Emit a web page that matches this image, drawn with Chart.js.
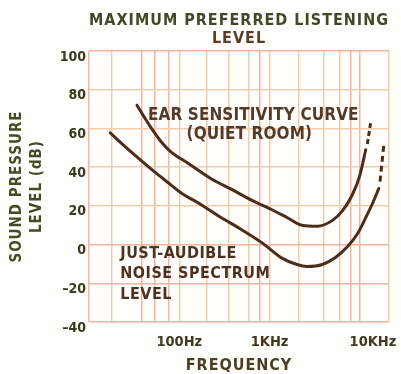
<!DOCTYPE html>
<html>
<head>
<meta charset="utf-8">
<script src="https://cdn.jsdelivr.net/npm/chart.js@4/dist/chart.umd.min.js"></script>
<style>
  html, body { margin: 0; padding: 0; background: #fffefb; }
  #wrap { width: 401px; height: 374px; }
</style>
</head>
<body>
<div id="wrap"><canvas id="chart" width="401" height="374"></canvas></div>
<script>
// Frequency grid (Hz) and the decades that carry a label
const gridFreqs = [10, 18, 38, 54, 77, 100, 200, 350, 590, 780, 1000, 2100, 4000, 6000, 8000, 10000, 21000];
const freqLabels = { 100: '100Hz', 1000: '1KHz', 10000: '10KHz' };
const levelTicks = [100, 80, 60, 40, 20, 0, -20, -40];

// Ear sensitivity curve (quiet room), dB SPL vs Hz
const earFreq  = [34, 42, 51, 62, 80, 125, 225, 380, 630, 1060, 1560, 2290, 3370, 4970, 6430, 8300, 9950, 11600];
const earLevel = [72, 65, 59, 53.5, 48, 42, 34, 28.5, 23, 18, 14, 10, 9.5, 12.5, 17.5, 26, 35.5, 49];
const earDashFreq  = [12100, 13200];
const earDashLevel = [52, 63.5];

// Just-audible noise spectrum level
const noiseFreq  = [17.2, 25.3, 37, 55, 80, 104, 175, 290, 490, 820, 1370, 2010, 2600, 3840, 5360, 7300, 9440, 11600, 13900, 16200];
const noiseLevel = [57.7, 50.5, 43.8, 37, 31, 26.8, 20.6, 14, 7.7, 1, -7, -10.3, -11.3, -10.3, -6.7, -1, 5.7, 13.9, 21.6, 29];
const noiseDashFreq  = [16700, 18400];
const noiseDashLevel = [32.5, 51.5];

const FONT = "'DejaVu Sans Condensed', 'DejaVu Sans', sans-serif";
const CURVE = '#4a2d1b';
const TAN = '#efcdae';
const PINK = '#f2b2a4';
const pinkX = new Set([10, 38, 54, 77, 780, 8000, 10000]);
const pinkY = new Set([100, 0, -20, -40]);

const pts = (fs, ls) => fs.map((f, i) => ({ x: f, y: ls[i] }));

function curve(data, dash) {
  return {
    data,
    borderColor: CURVE,
    borderWidth: 3,
    borderDash: dash || [],
    borderCapStyle: dash ? 'butt' : 'round',
    pointRadius: 0,
    cubicInterpolationMode: 'monotone',
    fill: false
  };
}

// In-plot captions, anchored in data coordinates; also sets letter spacing per drawing stage
const captions = {
  id: 'captions',
  beforeDraw(chart) {
    chart.ctx.letterSpacing = '1px';
  },
  afterDatasetsDraw(chart) {
    const { ctx, scales: { x, y } } = chart;
    ctx.save();
    ctx.textBaseline = 'alphabetic';

    ctx.fillStyle = '#553a29';
    ctx.letterSpacing = '0.1px';
    ctx.font = `bold 17px ${FONT}`;
    ctx.textAlign = 'center';
    const ex = x.getPixelForValue(660);
    const ey = y.getPixelForValue(64.4);
    ctx.fillText('EAR SENSITIVITY CURVE', ex, ey);
    ctx.fillText('(QUIET ROOM)', ex - 4, ey + 19);

    ctx.fillStyle = '#4c3222';
    ctx.letterSpacing = '0.5px';
    ctx.font = `bold 16px ${FONT}`;
    ctx.textAlign = 'left';
    const nx = x.getPixelForValue(22.2);
    const ny = y.getPixelForValue(-6.7);
    ['JUST-AUDIBLE', 'NOISE SPECTRUM', 'LEVEL'].forEach((t, i) => ctx.fillText(t, nx, ny + i * 20.5));
    ctx.restore();

    ctx.letterSpacing = '0px';
  },
  afterDraw(chart) {
    chart.ctx.letterSpacing = '0px';
  }
};

new Chart(document.getElementById('chart'), {
  type: 'line',
  data: {
    datasets: [
      curve(pts(earFreq, earLevel)),
      curve(pts(earDashFreq, earDashLevel), [5, 3]),
      curve(pts(noiseFreq, noiseLevel)),
      curve(pts(noiseDashFreq, noiseDashLevel), [6, 4])
    ]
  },
  options: {
    responsive: false,
    animation: false,
    devicePixelRatio: 1,
    layout: { padding: 0 },
    plugins: {
      legend: { display: false },
      tooltip: { enabled: false },
      title: {
        display: true,
        text: 'MAXIMUM PREFERRED LISTENING',
        fullSize: false,
        color: '#46472a',
        font: { family: FONT, size: 16, weight: 'bold', lineHeight: 18 / 16 },
        padding: { top: 12, bottom: 0 }
      },
      subtitle: {
        display: true,
        text: 'LEVEL',
        fullSize: false,
        color: '#5b3d2b',
        font: { family: FONT, size: 16, weight: 'bold', lineHeight: 18 / 16 },
        padding: { top: 0, bottom: 3 }
      }
    },
    scales: {
      x: {
        type: 'logarithmic',
        min: 10,
        max: 21000,
        afterBuildTicks: s => { s.ticks = gridFreqs.map(v => ({ value: v })); },
        afterFit: s => { s.height = 52; },
        ticks: {
          autoSkip: false,
          maxRotation: 0,
          padding: 12,
          z: 1,
          color: '#433722',
          font: { family: FONT, size: 14.5, weight: 'bold', lineHeight: 1.2 },
          callback: v => {
            const t = freqLabels[v] || '';
            // the top decade label sits a little right of its grid line
            return v === 10000 ? '\u2003\u2003' + t : t;
          }
        },
        grid: {
          drawTicks: false,
          lineWidth: 1.5,
          color: c => (c.tick && pinkX.has(c.tick.value)) ? PINK : TAN
        },
        border: { display: false },
        title: {
          display: true,
          text: 'FREQUENCY',
          color: '#4a3f22',
          font: { family: FONT, size: 16, weight: 'bold', lineHeight: 1 },
          padding: { top: 0, bottom: 0 }
        }
      },
      y: {
        min: -40,
        max: 100,
        afterBuildTicks: s => { s.ticks = levelTicks.map(v => ({ value: v })); },
        afterFit: s => { s.width = 89; },
        ticks: {
          padding: 3,
          labelOffset: 6,
          z: 1,
          color: '#3a3a1e',
          font: { family: FONT, size: 14, weight: 'bold' },
          callback: v => v < 0 ? '\u2013' + Math.abs(v) : String(v)
        },
        grid: {
          drawTicks: false,
          lineWidth: 1.5,
          color: c => (c.tick && pinkY.has(c.tick.value)) ? PINK : TAN
        },
        border: { display: false },
        title: {
          display: true,
          text: ['SOUND PRESSURE', 'LEVEL (dB)'],
          color: '#3f4c25',
          font: { family: FONT, size: 15, weight: 'bold', lineHeight: 20 / 15 },
          padding: { top: 7, bottom: 0 }
        }
      }
    }
  },
  plugins: [captions]
});
</script>
</body>
</html>
